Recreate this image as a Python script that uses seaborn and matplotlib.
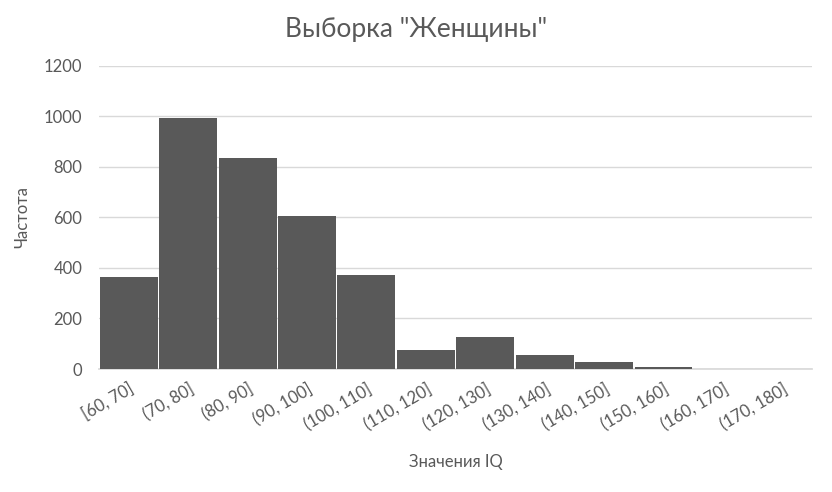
import matplotlib
matplotlib.use("Agg")
import matplotlib.pyplot as plt
import pandas as pd
import seaborn as sns

bins = ["[60, 70]", "(70, 80]", "(80, 90]", "(90, 100]", "(100, 110]", "(110, 120]",
        "(120, 130]", "(130, 140]", "(140, 150]", "(150, 160]", "(160, 170]", "(170, 180]"]
counts = [364, 993, 834, 606, 372, 75, 125, 55, 26, 7, 0, 0]

TEXT = "#595959"
BAR = "#595959"
GRID = "#d9d9d9"

sns.set_theme(style="white")
plt.rcParams["font.family"] = ["Lato", "DejaVu Sans"]

df = pd.DataFrame({"bin": bins, "count": counts})

fig = plt.figure(figsize=(8.32, 4.92), dpi=100)
ax = fig.add_axes([0.119, 0.25, 0.857, 0.616])
sns.barplot(data=df, x="bin", y="count", order=bins, color=BAR, saturation=1,
            width=0.975, linewidth=0, ax=ax, zorder=3)

ax.set_ylim(0, 1200)
ax.set_yticks(range(0, 1201, 200))
ax.set_xlim(-0.5, len(bins) - 0.5)
ax.grid(axis="y", color=GRID, linewidth=1, zorder=0)
for s in ["top", "right", "left"]:
    ax.spines[s].set_visible(False)
ax.spines["bottom"].set_color(GRID)
ax.tick_params(axis="both", length=0, colors=TEXT, labelsize=12)
ax.tick_params(axis="y", pad=12)
plt.setp(ax.get_xticklabels(), rotation=30, ha="right", rotation_mode="anchor")
ax.tick_params(axis="x", pad=8)

ax.set_xlabel("Значения IQ", color=TEXT, fontsize=12, labelpad=16)
ax.set_ylabel("Частота", color=TEXT, fontsize=12, labelpad=10)
fig.suptitle('Выборка "Женщины"', color=TEXT, fontsize=19, y=0.965)

fig.savefig("out.png", dpi=100)
